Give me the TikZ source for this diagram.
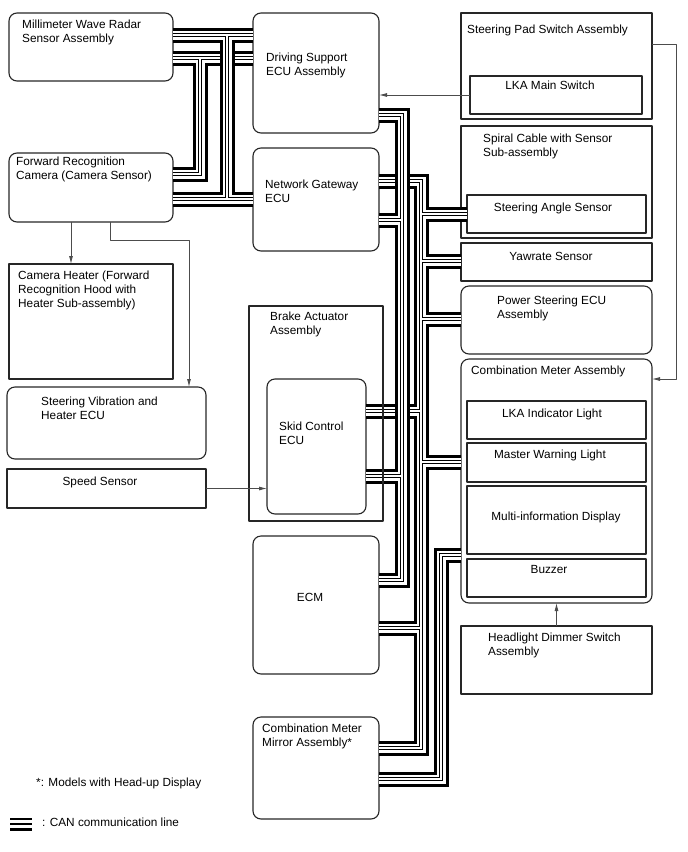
\documentclass[tikz,border=0pt]{standalone}
\usepackage{fontspec}
\setmainfont{Liberation Sans}
\usetikzlibrary{arrows.meta,calc}

% CAN line: black band, white core, hollow centre wire
\newcommand{\canline}[1]{%
  \foreach \lw/\lc in {15/black,9/white,4.6/black,2.2/white}
    \draw[line width=\lw pt, draw=\lc, line cap=butt, line join=miter] #1;}

\begin{document}
\begin{tikzpicture}[
						x=1pt, y=-1pt,
						line join=round,
						box/.style={draw=black!85, line width=1.1pt, anchor=north west, inner sep=0pt, outer sep=0pt},
						rbox/.style={box, rounded corners=8pt},
						txt/.style={inner sep=0pt, align=left, font=\fontsize{11.8}{14}\selectfont},
						sig/.style={draw=black!70, line width=0.8pt, -{Latex[length=8pt,width=4pt]}}
						]
						
						\useasboundingbox (0,0) rectangle (688,852);
						
						% Left column
						\node[rbox, minimum width=164pt, minimum height=68pt] (mmw) at (9,13) {};
						\node[txt, anchor=north west] (mmwt) at (22,19.7) {Millimeter Wave Radar\\Sensor Assembly};
						\node[rbox, minimum width=164pt, minimum height=69pt] (fcam) at (9,153) {};
						\node[txt, anchor=north west] (fcamt) at (16,156.7) {Forward Recognition\\Camera (Camera Sensor)};
						\node[box, minimum width=164pt, minimum height=115pt] (cheat) at (9,264) {};
						\node[txt, anchor=north west] (cheatt) at (18,270.7) {Camera Heater (Forward\\Recognition Hood with\\Heater Sub-assembly)};
						\node[rbox, minimum width=199pt, minimum height=72pt] (svh) at (7,387) {};
						\node[txt, anchor=north west] (svht) at (41,396.7) {Steering Vibration and\\Heater ECU};
						\node[box, minimum width=199pt, minimum height=39pt] (spd) at (7,469) {};
						\node[txt, anchor=base] (spdt) at (100,485.2) {Speed Sensor};
						
						% Centre column
						\node[rbox, minimum width=126pt, minimum height=120pt] (dsecu) at (253,13) {};
						\node[txt, anchor=north west] (dsecut) at (266,52.7) {Driving Support\\ECU Assembly};
						\node[rbox, minimum width=126pt, minimum height=103pt] (ngw) at (253,148) {};
						\node[txt, anchor=north west] (ngwt) at (265,179.7) {Network Gateway\\ECU};
						\node[rbox, minimum width=99pt, minimum height=135pt] (skid) at (267,379) {};
						\node[txt, anchor=north west] (skidt) at (279,421.7) {Skid Control\\ECU};
						\node[rbox, minimum width=126pt, minimum height=138pt] (ecm) at (253,536) {};
						\node[txt, anchor=base] (ecmt) at (310,601.2) {ECM};
						\node[rbox, minimum width=126pt, minimum height=102pt] (cmm) at (253,717) {};
						\node[txt, anchor=north west] (cmmt) at (262,723.7) {Combination Meter\\Mirror Assembly*};
						
						% Right column
						\node[box, minimum width=191pt, minimum height=106pt] (spad) at (461,13) {};
						\node[txt, anchor=north west] (spadt) at (467,24.7) {Steering Pad Switch Assembly};
						\node[box, minimum width=172pt, minimum height=38pt] (lkasw) at (470,76) {};
						\node[txt, anchor=base] (lkaswt) at (550,89.2) {LKA Main Switch};
						\node[box, minimum width=191pt, minimum height=112pt] (spiral) at (461,126) {};
						\node[txt, anchor=north west] (spiralt) at (483,133.7) {Spiral Cable with Sensor\\Sub-assembly};
						\node[box, minimum width=179pt, minimum height=38pt] (sas) at (467,195) {};
						\node[txt, anchor=base] (sast) at (553,211.2) {Steering Angle Sensor};
						\node[box, minimum width=191pt, minimum height=38pt] (yaw) at (461,243) {};
						\node[txt, anchor=base] (yawt) at (551,260.2) {Yawrate Sensor};
						\node[rbox, minimum width=191pt, minimum height=68pt] (pscu) at (461,286) {};
						\node[txt, anchor=north west] (pscut) at (497,295.7) {Power Steering ECU\\Assembly};
						\node[rbox, minimum width=191pt, minimum height=244pt] (cmeter) at (461,359) {};
						\node[txt, anchor=north west] (cmetert) at (471,365.7) {Combination Meter Assembly};
						\node[box, minimum width=179pt, minimum height=38pt] (lkaind) at (467,401) {};
						\node[txt, anchor=base] (lkaindt) at (552,417.2) {LKA Indicator Light};
						\node[box, minimum width=179pt, minimum height=39pt] (mwl) at (467,443) {};
						\node[txt, anchor=base] (mwlt) at (550,458.2) {Master Warning Light};
						\node[box, minimum width=179pt, minimum height=68pt] (mid) at (467,486) {};
						\node[txt, anchor=base] (midt) at (556,520.2) {Multi-information Display};
						\node[box, minimum width=179pt, minimum height=38pt] (buzz) at (467,559) {};
						\node[txt, anchor=base] (buzzt) at (549,573.2) {Buzzer};
						\node[box, minimum width=191pt, minimum height=68pt] (hdim) at (461,626) {};
						\node[txt, anchor=north west] (hdimt) at (488,632.7) {Headlight Dimmer Switch\\Assembly};
						
						% CAN lines, radar side
						\canline{(mmw.east |- 0,58) -- (dsecu.west |- 0,58) (200,58) |- (fcam.east |- 0,174)}
						\canline{(mmw.east |- 0,35) -- (dsecu.west |- 0,35) (fcam.east |- 0,199) -- (ngw.west |- 0,199) (227,35) -- (227,199)}
						
						% CAN lines, gateway side
						\canline{(ngw.east |- 0,181) -| (421,748) -- (cmm.east |- 0,748)
							(421,214) -- (sas.west |- 0,214)
							(421,261) -- (yaw.west |- 0,261)
							(421,319) -- (pscu.west |- 0,319)
							(421,462) -- (cmeter.west |- 0,462)
							(skid.east |- 0,411) -- (421,411)
							(ecm.east |- 0,628) -- (421,628)}
						\canline{(dsecu.east |- 0,115) -| (402,580) -- (ecm.east |- 0,580)
							(ngw.east |- 0,220) -- (402,220)
							(skid.east |- 0,476) -- (402,476)}
						\canline{(cmeter.west |- 0,555) -| (441,779) -- (cmm.east |- 0,779)}
						
						% Brake actuator frame over the lines
						\node[box, minimum width=134pt, minimum height=215pt] (brake) at (249,306) {};
						\node[txt, anchor=north west] (braket) at (270,311.7) {Brake Actuator\\Assembly};
						
						% Signal lines
						\draw[sig] (lkasw.west) -- (lkasw.west -| dsecu.east);
						\draw[sig] (spad.east |- 0,44) -- (676,44) |- (cmeter.east |- 0,379);
						\draw[sig] (fcam.south -| 71,0) -- (cheat.north -| 71,0);
						\draw[sig] (fcam.south -| 110,0) -- (110,240) -| (svh.north -| 189,0);
						\draw[sig] (spd.east) -- (spd.east -| skid.west);
						\draw[sig] (hdim.north) -- (hdim.north |- cmeter.south);
						
						% Notes
						\node[txt, anchor=base west] (note) at (36,786.2) {*: Models with Head-up Display};
						\coordinate (leg) at (10,824.3);
						\foreach \dy in {-5.3,0,5.3}
						\draw[line width=2.3pt] ($(leg)+(0,\dy)$) -- ++(22,0);
						\node[txt, anchor=base west] (legt) at (42,826) {: CAN communication line};
						
					\end{tikzpicture}
\end{document}
